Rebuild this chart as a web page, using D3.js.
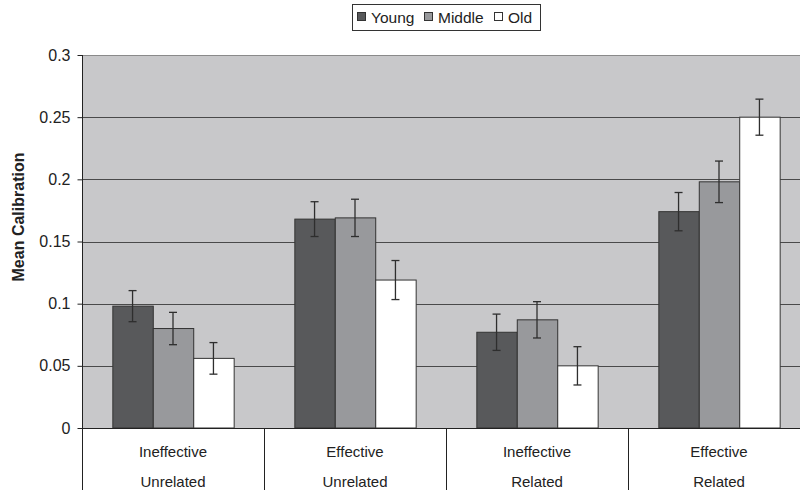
<!DOCTYPE html>
<html>
<head>
<meta charset="utf-8">
<script src="https://cdn.jsdelivr.net/npm/d3@7/dist/d3.min.js"></script>
<style>
  html, body { margin: 0; padding: 0; background: #fff; }
  svg { display: block; font-family: "Liberation Sans", Arial, sans-serif; }
</style>
</head>
<body>
<svg id="chart" width="800" height="490"></svg>
<script>
// Conditions on the x axis (two label rows)
const conditions = ["Ineffective", "Effective", "Ineffective", "Effective"];
const relations = ["Unrelated", "Unrelated", "Related", "Related"];
// Age groups
const series = ["Young", "Middle", "Old"];
const seriesColors = ["#58595b", "#98999c", "#ffffff"];
// Mean calibration per condition, one array per age group
const young = [0.098, 0.168, 0.077, 0.174];
const middle = [0.080, 0.169, 0.087, 0.198];
const old = [0.056, 0.119, 0.050, 0.250];
// Standard error per bar
const youngErr = [0.0125, 0.014, 0.0146, 0.0154];
const middleErr = [0.013, 0.015, 0.0146, 0.0167];
const oldErr = [0.0127, 0.0157, 0.0154, 0.0145];
// Y axis ticks
const yTicks = [0, 0.05, 0.1, 0.15, 0.2, 0.25, 0.3];
const yTickLabels = ["0", "0.05", "0.1", "0.15", "0.2", "0.25", "0.3"];

const values = [young, middle, old];
const errors = [youngErr, middleErr, oldErr];

const svg = d3.select("#chart");
const plotLeft = 82, plotTop = 55, plotBottom = 428;
const catStep = 182;
const plotRight = plotLeft + catStep * conditions.length;

const x0 = d3.scaleBand().domain(d3.range(conditions.length)).range([plotLeft, plotRight]).padding(0);
const x1 = d3.scaleBand().domain(series).range([0, x0.bandwidth()]).paddingInner(0).paddingOuter(0.75);
const y = d3.scaleLinear().domain([0, 0.3]).range([plotBottom, plotTop]);

// plot area background
svg.append("rect")
  .attr("x", plotLeft).attr("y", plotTop)
  .attr("width", plotRight - plotLeft).attr("height", plotBottom - plotTop)
  .attr("fill", "#c8c8ca");

// top border of plot area
svg.append("line")
  .attr("x1", plotLeft).attr("x2", plotRight)
  .attr("y1", plotTop + 0.5).attr("y2", plotTop + 0.5)
  .attr("stroke", "#8a8a8a").attr("stroke-width", 1);

// horizontal gridlines
svg.append("g").selectAll("line")
  .data(yTicks.filter(t => t > 0 && t < 0.3))
  .join("line")
  .attr("x1", plotLeft).attr("x2", plotRight)
  .attr("y1", d => Math.round(y(d)) + 0.5).attr("y2", d => Math.round(y(d)) + 0.5)
  .attr("stroke", "#4a4a4a").attr("stroke-width", 1);

// bars
const groups = svg.append("g").selectAll("g")
  .data(conditions.map((c, i) => i))
  .join("g")
  .attr("transform", i => `translate(${x0(i)},0)`);

groups.selectAll("rect")
  .data(i => series.map((s, k) => ({ s, k, v: values[k][i], e: errors[k][i] })))
  .join("rect")
  .attr("x", d => x1(d.s) + 0.5)
  .attr("y", d => y(d.v))
  .attr("width", x1.bandwidth())
  .attr("height", d => y(0) - y(d.v))
  .attr("fill", d => seriesColors[d.k])
  .attr("stroke", "#333")
  .attr("stroke-width", 1);

// error bars
const eb = groups.selectAll("g.err")
  .data(i => series.map((s, k) => ({ s, k, v: values[k][i], e: errors[k][i] })))
  .join("g").attr("class", "err")
  .attr("stroke", "#2e2e2e").attr("stroke-width", 1.3);
eb.append("line")
  .attr("x1", d => x1(d.s) + x1.bandwidth() / 2).attr("x2", d => x1(d.s) + x1.bandwidth() / 2)
  .attr("y1", d => y(d.v + d.e)).attr("y2", d => y(d.v - d.e));
eb.append("line")
  .attr("x1", d => x1(d.s) + x1.bandwidth() / 2 - 4).attr("x2", d => x1(d.s) + x1.bandwidth() / 2 + 4)
  .attr("y1", d => y(d.v + d.e)).attr("y2", d => y(d.v + d.e));
eb.append("line")
  .attr("x1", d => x1(d.s) + x1.bandwidth() / 2 - 4).attr("x2", d => x1(d.s) + x1.bandwidth() / 2 + 4)
  .attr("y1", d => y(d.v - d.e)).attr("y2", d => y(d.v - d.e));

// y axis
const yAxis = d3.axisLeft(y)
  .tickValues(yTicks)
  .tickFormat((d, i) => yTickLabels[i])
  .tickSizeInner(5).tickSizeOuter(0).tickPadding(7);
const gy = svg.append("g").attr("transform", `translate(${plotLeft + 0.5},0)`).call(yAxis);
gy.select(".domain").remove();
gy.selectAll(".tick line").attr("stroke", "#222");
gy.selectAll(".tick text")
  .attr("font-size", 16).attr("fill", "#222")
  .attr("font-family", "'Liberation Sans', Arial, sans-serif");
svg.append("line")
  .attr("x1", plotLeft + 0.5).attr("x2", plotLeft + 0.5)
  .attr("y1", plotTop).attr("y2", 490)
  .attr("stroke", "#222");

// x axis baseline and category separators
svg.append("line")
  .attr("x1", plotLeft).attr("x2", plotRight)
  .attr("y1", Math.round(y(0)) + 0.5).attr("y2", Math.round(y(0)) + 0.5)
  .attr("stroke", "#222");
svg.append("g").selectAll("line")
  .data(d3.range(1, conditions.length))
  .join("line")
  .attr("x1", i => x0(i) + 0.5).attr("x2", i => x0(i) + 0.5)
  .attr("y1", y(0)).attr("y2", 490)
  .attr("stroke", "#222");

// x labels, two rows
const xl = svg.append("g").attr("font-size", 15).attr("fill", "#222").attr("text-anchor", "middle");
xl.selectAll("text.c")
  .data(conditions).join("text").attr("class", "c")
  .attr("x", (d, i) => x0(i) + x0.bandwidth() / 2)
  .attr("y", 457)
  .text(d => d);
xl.selectAll("text.r")
  .data(relations).join("text").attr("class", "r")
  .attr("x", (d, i) => x0(i) + x0.bandwidth() / 2)
  .attr("y", 487)
  .text(d => d);

// y axis title
svg.append("text")
  .attr("transform", "translate(24,217) rotate(-90)")
  .attr("text-anchor", "middle")
  .attr("font-size", 16).attr("font-weight", "bold").attr("fill", "#222")
  .text("Mean Calibration");

// legend
const lg = svg.append("g");
lg.append("rect")
  .attr("x", 352.5).attr("y", 4.5).attr("width", 188).attr("height", 26)
  .attr("fill", "#fff").attr("stroke", "#333");
const legendX = [357, 424, 494];
const li = lg.selectAll("g.item")
  .data(series).join("g").attr("class", "item")
  .attr("transform", (d, i) => `translate(${legendX[i]},0)`);
li.append("rect")
  .attr("x", 0.5).attr("y", 12.5).attr("width", 8).attr("height", 8)
  .attr("fill", (d, i) => seriesColors[i]).attr("stroke", "#333");
li.append("text")
  .attr("x", 14).attr("y", 23)
  .attr("font-size", 15.5).attr("fill", "#222")
  .text(d => d);
</script>
</body>
</html>
